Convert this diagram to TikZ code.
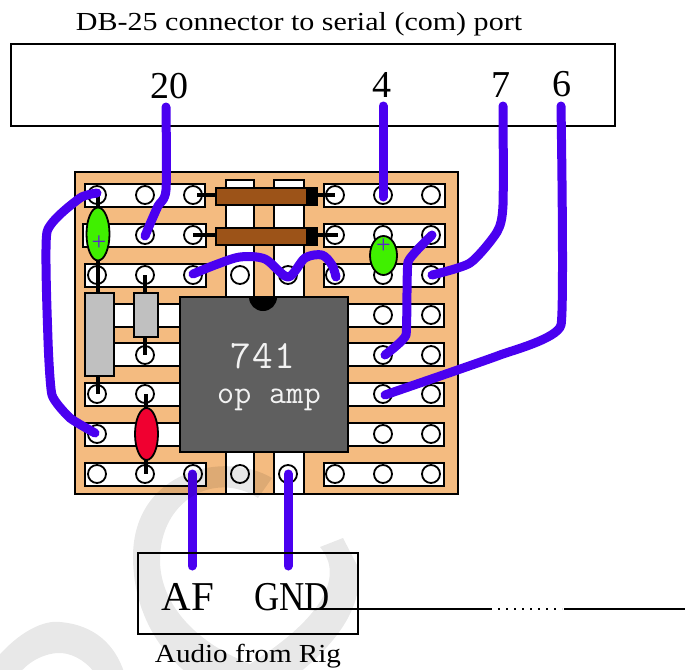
\documentclass[tikz,border=0pt]{standalone}
\usepackage{fontspec}
\setmainfont{Liberation Serif}
\setmonofont{Latin Modern Mono}
\definecolor{boardc}{HTML}{F4BB80}
\definecolor{wirec}{HTML}{4A00F0}
\definecolor{chipc}{HTML}{5F5F5F}
\definecolor{brownc}{HTML}{9C5318}
\definecolor{grayc}{HTML}{C0C0C0}
\definecolor{greenc}{HTML}{40F000}
\definecolor{redc}{HTML}{F00030}
\tikzset{
  stripbox/.style={draw=black,line width=1.8pt,fill=white},
  holemark/.style={draw=black,line width=1.8pt,circle,minimum size=18pt,inner sep=0pt},
  wirepath/.style={draw=wirec,line width=9pt,line cap=round,line join=round},
  leadline/.style={draw=black,line width=3.5pt},
  partbox/.style={draw=black,line width=1.8pt},
  digit/.style={font=\fontsize{38}{38}\selectfont,inner sep=0pt},
  plussign/.style={font=\fontsize{26}{26}\selectfont,text=wirec!70!gray,inner sep=0pt},
  chiptext/.style={text=white!90!gray,inner sep=0pt}
}
\begin{document}
\begin{tikzpicture}[x=1pt,y=-1pt]
\useasboundingbox (0,0) rectangle (685,669);
% top connector
\node[inner sep=0pt,font=\fontsize{26}{26}\selectfont,xscale=1.155] (title) at (299,24) {DB-25 connector to serial (com) port};
\draw[line width=1.4pt] (11,44) rectangle (615,126);
\node[digit] (p20) at (169,86) {20};
\node[digit] (p4) at (382,85) {4};
\node[digit] (p7) at (501,85) {7};
\node[digit] (p6) at (562,84) {6};
% board
\draw[line width=1.8pt,fill=boardc] (75,172) rectangle (458,494);
% vertical pads
\draw[stripbox] (226,180) rectangle (254,300);
\draw[stripbox] (274,180) rectangle (304,300);
\draw[stripbox] (226,450) rectangle (254,494);
\draw[stripbox] (274,450) rectangle (304,494);
% strips
\foreach \xa/\xb/\ya in {85/205/184,83/206/224,85/206/264,85/180/304,85/180/343,85/180/383,85/180/423,85/206/463,
                         324/445/184,324/445/224,324/444/264,340/444/304,340/444/343,340/444/383,340/444/423,324/444/463}
  \draw[stripbox] (\xa,\ya) rectangle (\xb,\ya+23);
% holes
\foreach \y in {195,235,275,474} \foreach \x in {97,145,193}
  \node[holemark] at (\x,\y) {};
\node[holemark] at (145,355) {};
\node[holemark] at (97,394) {};
\node[holemark] at (145,394) {};
\node[holemark] at (97,434) {};
\foreach \y in {195,235,275,315,355,394,434,474} \node[holemark] at (431,\y) {};
\foreach \y in {195,235,275,315,355,394,434,474} \node[holemark] at (383,\y) {};
\foreach \y in {195,235,275,474} \node[holemark] at (335,\y) {};
\node[holemark] at (240,275) {};
\node[holemark] at (288,275) {};
\node[holemark] at (240,474) {};
\node[holemark] at (288,474) {};
% leads
\draw[leadline] (197,195) -- (216,195);
\draw[leadline] (193,235) -- (216,235);
\draw[leadline] (318,195) -- (335,195);
\draw[leadline] (318,235) -- (338,235);
\draw[leadline] (98,195) -- (98,293);
\draw[leadline] (145,275) -- (145,293);
\draw[leadline] (145,337) -- (145,355);
\draw[leadline] (98,376) -- (98,394);
\draw[leadline] (146,394) -- (146,408);
\draw[leadline] (146,460) -- (146,474);
% resistors
\foreach \y in {188,228} {
  \draw[partbox,fill=brownc] (216,\y) rectangle (307,\y+17);
  \fill[black] (307,\y-1) rectangle (318,\y+18);
}
\draw[partbox,fill=grayc] (85,293) rectangle (114,376);
\draw[partbox,fill=grayc] (134,293) rectangle (158,337);
% capacitors
\draw[partbox,fill=greenc] (98,234) ellipse (11.5 and 26.5);
\node[plussign] at (99,243) {+};
\draw[partbox,fill=greenc] (383.5,255.5) ellipse (13.5 and 19.5);
\node[plussign] at (383.5,246) {+};
\draw[partbox,fill=redc] (146.5,434) ellipse (11.5 and 26);
% chip
\draw[line width=1.8pt,fill=chipc] (180,297) rectangle (348,452);
\fill[black] (249,297) arc[start angle=180,end angle=0,radius=14] -- cycle;
\node[chiptext,font=\ttfamily\fontsize{40}{40}\selectfont\addfontfeature{LetterSpace=3}] (chipa) at (263,356) {741};
\node[chiptext,font=\ttfamily\fontsize{33}{33}\selectfont\addfontfeature{LetterSpace=1.5}] (chipb) at (269,400) {op amp};
% wires
\draw[wirepath] plot[smooth,tension=.4] coordinates {(166,107) (166,190) (158,206) (150,224) (145,236)};
\draw[wirepath] (383,106) -- (383,197);
\draw[wirepath] plot[smooth,tension=.4] coordinates {(503,106) (503,205) (497,232) (470,263) (432,275)};
\draw[wirepath] plot[smooth,tension=.2] coordinates {(561,106) (561,325) (500,355) (385,395)};
\draw[wirepath] plot[smooth,tension=.3] coordinates {(97,193) (80,198) (47,232) (48,340) (52,395) (70,418) (95,433)};
\draw[wirepath] plot[smooth,tension=.5] coordinates {(193,274) (215,265) (240,257) (265,259) (288,277) (305,258) (322,255) (332,265) (336,277)};
\draw[wirepath] plot[smooth,tension=.2] coordinates {(432,235) (408,262) (406,335) (385,355)};
\draw[wirepath] (192,474) -- (192,566);
\draw[wirepath] (288,474) -- (288,566);
% audio box
\draw[line width=1.4pt] (138,553) rectangle (358,634);
\node[inner sep=0pt,font=\fontsize{41}{41}\selectfont] (af) at (188,597) {AF};
\node[inner sep=0pt,font=\fontsize{41}{41}\selectfont,xscale=.85] (gnd) at (292,597) {GND};
\node[inner sep=0pt,font=\fontsize{26}{26}\selectfont,xscale=1.12] (audio) at (248,656) {Audio from Rig};
% line
\draw[line width=1.4pt] (300,609) -- (490,609);
\draw[line width=1.4pt,dash pattern=on 2pt off 6pt] (490,609) -- (562,609);
\draw[line width=1.4pt] (564,609) -- (685,609);
% watermark
\begin{scope}
\clip (0,0) rectangle (685,669);
\fill[black,opacity=.09] (272,478) .. controls (225,450) and (133,470) .. (133,557)
  .. controls (133,620) and (170,680) .. (240,700) -- (290,680)
  .. controls (330,650) and (365,610) .. (358,567) -- (343,538) -- (320,547)
  .. controls (340,570) and (335,610) .. (250,664)
  .. controls (190,640) and (160,600) .. (160,560)
  .. controls (160,500) and (215,470) .. (258,498) -- cycle;
\fill[black,opacity=.09] (-5,660) .. controls (20,630) and (45,620) .. (60,622)
  .. controls (95,625) and (115,645) .. (124,672) -- (94,672)
  .. controls (85,660) and (70,652) .. (57,653)
  .. controls (35,655) and (20,670) .. (15,680) -- (-5,680) -- cycle;
\end{scope}
\end{tikzpicture}
\end{document}
